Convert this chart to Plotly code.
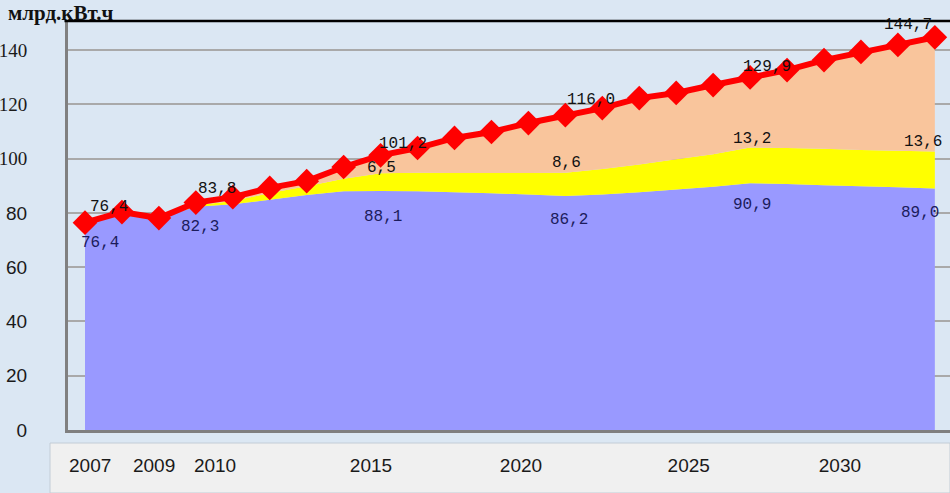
import plotly.graph_objects as go

# ---- data ----
years = list(range(2007, 2031))
total = [76.4, 80.3, 78.1, 83.8, 85.8, 89.2, 91.7, 96.9, 101.2, 103.9, 107.6, 109.8,
         113.1, 116.0, 118.6, 122.3, 124.2, 127.1, 129.9, 132.6, 136.3, 139.3, 141.9, 144.7]
blue = [76.4, 79.5, 78.1, 82.3, 83.2, 84.8, 86.6, 88.0, 88.1, 88.0, 87.6, 87.2,
        86.8, 86.2, 86.8, 87.6, 88.6, 89.6, 90.9, 90.6, 90.2, 89.8, 89.4, 89.0]
yellow = [0.0, 0.0, 0.0, 0.5, 1.2, 2.5, 3.2, 4.6, 6.5, 6.8, 7.1, 7.5,
          7.9, 8.6, 9.4, 10.2, 11.2, 12.0, 13.2, 13.3, 13.4, 13.4, 13.5, 13.6]
peach = [0.0, 0.8, 0.0, 1.0, 1.4, 1.9, 1.9, 4.3, 6.6, 9.1, 12.9, 15.1,
         18.4, 21.2, 22.4, 24.5, 24.4, 25.5, 25.8, 28.7, 32.7, 36.1, 39.0, 42.1]

label_years = [2007, 2010, 2015, 2020, 2025, 2030]
xtick_text = ["2007", "2009", "2010", "2015", "2020", "2025", "2030"]
ytick_vals = [0, 20, 40, 60, 80, 100, 120, 140]
unit_title = "млрд.кВт.ч"

BG = "#dbe7f3"
fig = go.Figure()
fig.add_trace(go.Scatter(x=years, y=blue, stackgroup="s", mode="none",
                         fillcolor="#9999ff", hoverinfo="skip"))
fig.add_trace(go.Scatter(x=years, y=yellow, stackgroup="s", mode="none",
                         fillcolor="#ffff00", hoverinfo="skip"))
fig.add_trace(go.Scatter(x=years, y=peach, stackgroup="s", mode="none",
                         fillcolor="#f9c59c", hoverinfo="skip"))
fig.add_trace(go.Scatter(x=years, y=total, mode="lines+markers",
                         line=dict(color="#ff0000", width=6),
                         marker=dict(symbol="diamond", size=19, color="#ff0000"),
                         hoverinfo="skip"))

def fmt(v):
    return f"{v:.1f}".replace(".", ",")

MONO = "Liberation Mono"
tot_shift = {2007: (24, 16), 2010: (21, 14), 2015: (22, 11), 2020: (26, 15), 2025: (17, 10), 2030: (-27, 12)}
blue_shift = {2007: (15, -20), 2010: (4, -20), 2015: (2, -26), 2020: (4, -24), 2025: (2, -22), 2030: (-15, -25)}
yel_shift = {2015: (1, 5), 2020: (1, 10), 2025: (2, 8), 2030: (-12, 10)}

ann = []
for yv in label_years:
    i = years.index(yv)
    dx, dy = tot_shift[yv]
    ann.append(dict(x=yv, y=total[i], text=fmt(total[i]), showarrow=False,
                    xshift=dx, yshift=dy, font=dict(family=MONO, size=16, color="#111111")))
    dx, dy = blue_shift[yv]
    ann.append(dict(x=yv, y=blue[i], text=fmt(blue[i]), showarrow=False,
                    xshift=dx, yshift=dy, font=dict(family=MONO, size=16, color="#1c1c5c")))
    if yv in yel_shift:
        dx, dy = yel_shift[yv]
        ann.append(dict(x=yv, y=blue[i] + yellow[i], text=fmt(yellow[i]), showarrow=False,
                        xshift=dx, yshift=dy, font=dict(family=MONO, size=16, color="#111111")))

# tick label positions as placed in the reference's label strip
xtick_pos = [2007.14, 2008.87, 2010.52, 2014.74, 2018.80, 2023.34, 2027.43]

ytext = []
for v in ytick_vals:
    if v >= 100:
        ytext.append(f"<span style='font-family:Liberation Serif'>{v}</span>")
    else:
        ytext.append(str(v))

fig.update_layout(
    width=950, height=493,
    margin=dict(l=68, r=0, t=21, b=63),
    paper_bgcolor=BG, plot_bgcolor=BG,
    showlegend=False,
    title=dict(text=f"<b>{unit_title}</b>", x=8 / 950, xanchor="left",
               y=1 - 13 / 493, yanchor="middle", xref="container", yref="container",
               font=dict(family="Liberation Serif", size=21, color="#111111")),
    xaxis=dict(range=[2006.54, 2030.41], tickvals=xtick_pos, ticktext=xtick_text,
               showgrid=False, zeroline=False, showline=True, linecolor="#7f7f7f",
               linewidth=3, ticks="", ticklabelstandoff=16,
               tickfont=dict(family="Liberation Sans", size=19, color="#1a1a1a")),
    yaxis=dict(range=[0, 150.7], tickvals=ytick_vals, ticktext=ytext,
               showgrid=True, gridcolor="#a9a9a9", gridwidth=2, zeroline=False,
               showline=True, linecolor="#808080", linewidth=3, ticks="",
               ticklabelstandoff=34,
               tickfont=dict(family="Liberation Sans", size=19, color="#1a1a1a")),
    annotations=ann,
    shapes=[
        dict(type="rect", xref="paper", yref="paper", x0=-0.0204, x1=1.0,
             y0=-0.154, y1=-0.0318, fillcolor="#f0f0f0",
             line=dict(color="#c2ccd6", width=1), layer="below"),
        dict(type="line", xref="paper", yref="paper", x0=-0.004, x1=1.0, y0=1, y1=1,
             line=dict(color="#000000", width=2.5)),
    ],
)

fig.write_html("out.html")
